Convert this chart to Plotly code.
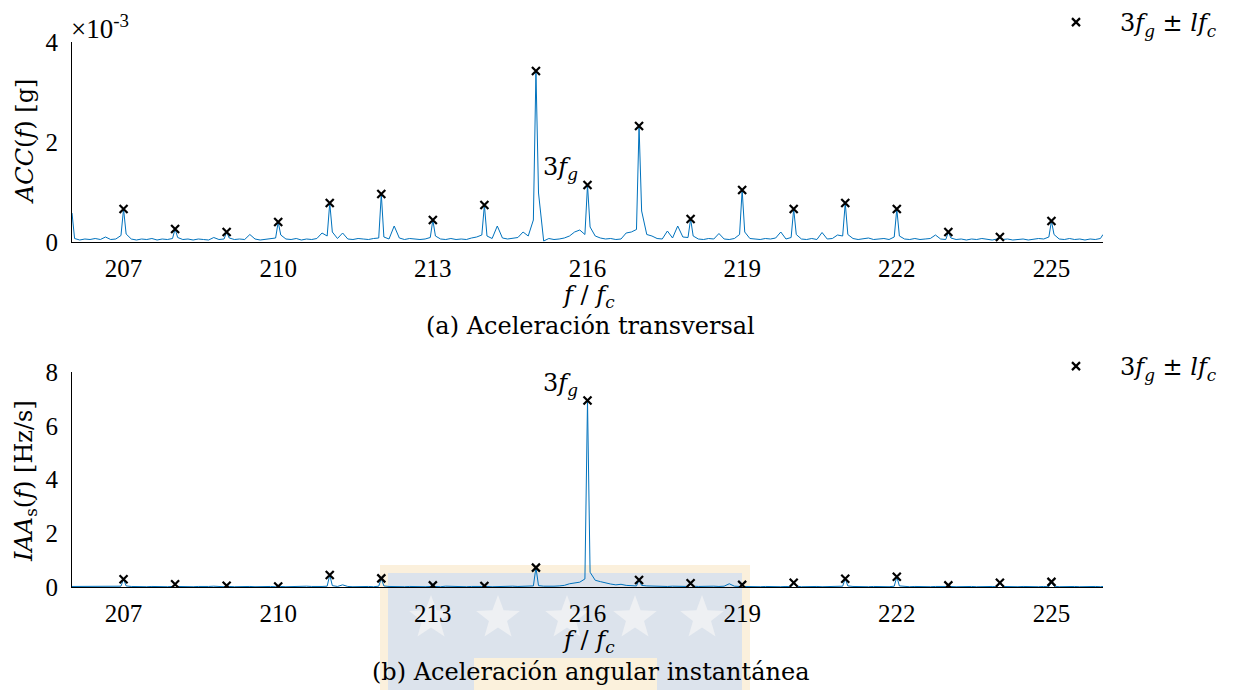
import numpy as np
import plotly.graph_objects as go

# ---------------------------------------------------------------------------
# Data
# ---------------------------------------------------------------------------
# Harmonic family 3f_g ± l f_c (frequency normalised by f_c)
harm_f = [207, 208, 209, 210, 211, 212, 213, 214, 215, 216,
          217, 218, 219, 220, 221, 222, 223, 224, 225]

# Transverse acceleration amplitude at the harmonics [x1e-3 g]
harm_acc = [0.66, 0.26, 0.20, 0.40, 0.78, 0.96, 0.44, 0.74, 3.42, 1.14,
            2.32, 0.46, 1.04, 0.66, 0.78, 0.66, 0.20, 0.10, 0.42]

# Instantaneous angular acceleration amplitude at the harmonics [Hz/s]
harm_iaa = [0.29, 0.10, 0.05, 0.02, 0.45, 0.32, 0.06, 0.04, 0.72, 6.94,
            0.26, 0.14, 0.08, 0.16, 0.31, 0.38, 0.06, 0.16, 0.19]

# Spectrum between harmonics, sampled at 206.05, 206.15, ..., 225.95
floor_f = np.round(206.05 + 0.1 * np.arange(200), 2)

acc_floor = [
    0.07, 0.04, 0.06, 0.05, 0.07, 0.05, 0.10, 0.05, 0.06, 0.13,  # 206
    0.16, 0.06, 0.04, 0.06, 0.05, 0.07, 0.04, 0.06, 0.05, 0.07,  # 207
    0.09, 0.05, 0.06, 0.04, 0.06, 0.05, 0.04, 0.09, 0.05, 0.06,  # 208
    0.08, 0.05, 0.06, 0.05, 0.15, 0.06, 0.04, 0.05, 0.06, 0.08,  # 209
    0.14, 0.06, 0.05, 0.07, 0.04, 0.06, 0.05, 0.07, 0.18, 0.12,  # 210
    0.20, 0.07, 0.18, 0.06, 0.05, 0.07, 0.06, 0.05, 0.07, 0.08,  # 211
    0.10, 0.06, 0.32, 0.08, 0.05, 0.07, 0.06, 0.05, 0.06, 0.09,  # 212
    0.12, 0.06, 0.05, 0.07, 0.05, 0.06, 0.05, 0.08, 0.10, 0.14,  # 213
    0.12, 0.07, 0.32, 0.08, 0.06, 0.07, 0.09, 0.20, 0.12, 0.44,  # 214
    0.98, 0.02, 0.07, 0.05, 0.06, 0.08, 0.12, 0.20, 0.24, 0.15,  # 215
    0.30, 0.12, 0.08, 0.06, 0.07, 0.05, 0.06, 0.18, 0.20, 0.25,  # 216
    0.62, 0.15, 0.12, 0.07, 0.06, 0.22, 0.08, 0.32, 0.10, 0.09,  # 217
    0.12, 0.06, 0.05, 0.07, 0.06, 0.17, 0.06, 0.05, 0.07, 0.15,  # 218
    0.20, 0.07, 0.06, 0.05, 0.07, 0.06, 0.08, 0.20, 0.06, 0.09,  # 219
    0.15, 0.06, 0.05, 0.07, 0.05, 0.19, 0.06, 0.07, 0.14, 0.12,  # 220
    0.15, 0.07, 0.05, 0.06, 0.08, 0.05, 0.06, 0.07, 0.05, 0.10,  # 221
    0.12, 0.06, 0.05, 0.07, 0.05, 0.06, 0.07, 0.14, 0.06, 0.05,  # 222
    0.08, 0.05, 0.06, 0.04, 0.06, 0.05, 0.07, 0.05, 0.04, 0.06,  # 223
    0.05, 0.06, 0.04, 0.05, 0.06, 0.04, 0.05, 0.07, 0.06, 0.10,  # 224
    0.15, 0.06, 0.05, 0.07, 0.05, 0.06, 0.04, 0.06, 0.05, 0.07,  # 225
]
acc_edges = [0.58, 0.15]   # values at f/f_c = 206 and 226

iaa_floor = [
    0.02, 0.01, 0.02, 0.01, 0.02, 0.01, 0.02, 0.01, 0.02, 0.03,  # 206
    0.04, 0.02, 0.01, 0.02, 0.01, 0.02, 0.01, 0.02, 0.01, 0.02,  # 207
    0.02, 0.01, 0.02, 0.01, 0.02, 0.01, 0.02, 0.03, 0.02, 0.01,  # 208
    0.02, 0.01, 0.02, 0.03, 0.02, 0.01, 0.02, 0.01, 0.02, 0.01,  # 209
    0.02, 0.01, 0.02, 0.01, 0.02, 0.03, 0.02, 0.01, 0.02, 0.03,  # 210
    0.05, 0.02, 0.08, 0.02, 0.01, 0.02, 0.01, 0.02, 0.01, 0.03,  # 211
    0.04, 0.02, 0.01, 0.02, 0.01, 0.02, 0.01, 0.02, 0.01, 0.02,  # 212
    0.02, 0.01, 0.03, 0.02, 0.01, 0.02, 0.01, 0.02, 0.01, 0.02,  # 213
    0.02, 0.01, 0.02, 0.03, 0.02, 0.03, 0.02, 0.03, 0.02, 0.04,  # 214
    0.05, 0.03, 0.02, 0.03, 0.04, 0.06, 0.12, 0.15, 0.18, 0.30,  # 215
    0.55, 0.25, 0.20, 0.15, 0.11, 0.08, 0.10, 0.06, 0.05, 0.04,  # 216
    0.06, 0.04, 0.03, 0.04, 0.03, 0.02, 0.03, 0.02, 0.03, 0.02,  # 217
    0.03, 0.02, 0.03, 0.02, 0.03, 0.02, 0.03, 0.12, 0.03, 0.02,  # 218
    0.02, 0.01, 0.02, 0.01, 0.02, 0.01, 0.02, 0.01, 0.02, 0.01,  # 219
    0.03, 0.01, 0.02, 0.01, 0.02, 0.01, 0.02, 0.01, 0.02, 0.03,  # 220
    0.04, 0.02, 0.01, 0.02, 0.01, 0.02, 0.01, 0.02, 0.01, 0.03,  # 221
    0.04, 0.02, 0.01, 0.02, 0.01, 0.02, 0.01, 0.02, 0.01, 0.02,  # 222
    0.02, 0.01, 0.02, 0.01, 0.02, 0.01, 0.02, 0.01, 0.02, 0.01,  # 223
    0.02, 0.01, 0.02, 0.01, 0.02, 0.01, 0.02, 0.01, 0.02, 0.01,  # 224
    0.03, 0.01, 0.02, 0.01, 0.02, 0.01, 0.02, 0.01, 0.02, 0.01,  # 225
]
iaa_edges = [0.02, 0.02]

x_ticks = [207, 210, 213, 216, 219, 222, 225]
acc_ticks = [0, 2, 4]
iaa_ticks = [0, 2, 4, 6, 8]


def spectrum(floor_vals, harm_vals, edges):
    """Merge the inter-harmonic samples with the harmonic peaks."""
    f = np.concatenate([[206.0], floor_f, harm_f, [226.0]])
    v = np.concatenate([[edges[0]], floor_vals, harm_vals, [edges[1]]])
    order = np.argsort(f, kind="stable")
    return f[order], v[order]


f_acc, v_acc = spectrum(acc_floor, harm_acc, acc_edges)
f_iaa, v_iaa = spectrum(iaa_floor, harm_iaa, iaa_edges)

# ---------------------------------------------------------------------------
# Figure
# ---------------------------------------------------------------------------
W, H = 1234, 690
TICK_FONT = "Liberation Serif"   # numeric tick labels
TEXT_FONT = "DejaVu Serif"       # typeset labels and captions
BLUE = "#0072BD"


def px_x(p):
    return p / W


def px_y(p):
    return 1 - p / H


fig = go.Figure()

legend_label = "3<i>f</i><sub><i>g</i></sub> ± <i>lf</i><sub><i>c</i></sub>"
marker_style = dict(symbol="x-thin", size=8, color="black",
                    line=dict(color="black", width=2.2))

fig.add_trace(go.Scatter(x=f_acc, y=v_acc, mode="lines",
                         line=dict(color=BLUE, width=1), showlegend=False,
                         xaxis="x", yaxis="y"))
fig.add_trace(go.Scatter(x=harm_f, y=harm_acc, mode="markers",
                         marker=marker_style, name=legend_label,
                         legend="legend", xaxis="x", yaxis="y"))

fig.add_trace(go.Scatter(x=f_iaa, y=v_iaa, mode="lines",
                         line=dict(color=BLUE, width=1), showlegend=False,
                         xaxis="x2", yaxis="y2"))
fig.add_trace(go.Scatter(x=harm_f, y=harm_iaa, mode="markers",
                         marker=marker_style, name=legend_label,
                         legend="legend2", xaxis="x2", yaxis="y2"))

x_dom = [px_x(72), px_x(1103)]
tickfont = dict(family=TICK_FONT, size=25, color="black")

common_x = dict(domain=x_dom, range=[206, 226], tickvals=x_ticks,
                showline=True, linecolor="black", linewidth=1,
                showgrid=False, zeroline=False, ticks="",
                tickfont=tickfont, ticklabelstandoff=4)
common_y = dict(showline=True, linecolor="black", linewidth=1,
                showgrid=False, zeroline=False, ticks="",
                tickfont=tickfont, ticklabelstandoff=8)

fig.update_layout(
    xaxis=dict(common_x, anchor="y"),
    yaxis=dict(common_y, anchor="x", domain=[px_y(242), px_y(42)],
               range=[0, 4], tickvals=acc_ticks),
    xaxis2=dict(common_x, anchor="y2"),
    yaxis2=dict(common_y, anchor="x2", domain=[px_y(587), px_y(372)],
                range=[0, 8], tickvals=iaa_ticks),
)

legend_common = dict(font=dict(family=TEXT_FONT, size=24, color="black"),
                     bgcolor="rgba(0,0,0,0)", borderwidth=0,
                     itemwidth=78, xanchor="left", yanchor="top")
fig.update_layout(
    legend=dict(legend_common, x=px_x(1032), y=1.0),
    legend2=dict(legend_common, x=px_x(1032), y=px_y(344)),
)

text_font = dict(family=TEXT_FONT, size=24, color="black")


def label(text, x, y, xref="paper", yref="paper", angle=0, font=text_font):
    if xref == "paper":
        x = px_x(x)
    if yref == "paper":
        y = px_y(y)
    return dict(text=text, x=x, y=y, xref=xref, yref=yref,
                xanchor="center", yanchor="middle", textangle=angle,
                showarrow=False, font=font)


annotations = [
    dict(text="×10<sup>-3</sup>", x=px_x(69), y=px_y(27), xref="paper",
         yref="paper", xanchor="left", yanchor="middle", showarrow=False,
         font=dict(family=TICK_FONT, size=27, color="black")),
    label("<i>ACC</i>(<i>f</i>) [g]", 25, 142, angle=-90),
    label("<i>IAA</i><sub>s</sub>(<i>f</i>) [Hz/s]", 25, 481, angle=-90),
    label("<i>f</i> / <i>f</i><sub><i>c</i></sub>", 588, 296),
    label("(a) Aceleración transversal", 590, 326),
    label("<i>f</i> / <i>f</i><sub><i>c</i></sub>", 588, 641),
    label("(b) Aceleración angular instantánea", 590, 672),
    label("3<i>f</i><sub><i>g</i></sub>", 215.47, 1.48, xref="x", yref="y"),
    label("3<i>f</i><sub><i>g</i></sub>", 215.47, 7.55, xref="x2",
          yref="y2"),
]


# Faint institutional watermark behind the lower caption
def star_path(cx, cy, r_out, r_in):
    pts = []
    for k in range(10):
        r = r_out if k % 2 == 0 else r_in
        a = -np.pi / 2 + k * np.pi / 5
        pts.append((px_x(cx + r * np.cos(a)), px_y(cy + r * np.sin(a))))
    return "M " + " L ".join(f"{x:.5f},{y:.5f}" for x, y in pts) + " Z"


def rect(x0, y0, x1, y1, color):
    return dict(type="rect", xref="paper", yref="paper", layer="below",
                x0=px_x(x0), x1=px_x(x1), y0=px_y(y1), y1=px_y(y0),
                fillcolor=color, line=dict(width=0))


shapes = [
    rect(380, 565, 750, 690, "#FBF0DC"),
    rect(388, 573, 742, 690, "#DCE3EC"),
    rect(474, 658, 657, 690, "#FBF1DC"),
]
for cx in [431, 498, 567, 635, 702]:
    shapes.append(dict(type="path", xref="paper", yref="paper",
                       layer="below", path=star_path(cx, 618, 23, 9.5),
                       fillcolor="#EEF0F3", line=dict(width=0)))

fig.update_layout(
    width=W, height=H,
    margin=dict(l=0, r=0, t=0, b=0, autoexpand=False),
    paper_bgcolor="white", plot_bgcolor="rgba(0,0,0,0)",
    font=dict(family=TEXT_FONT, color="black"),
    annotations=annotations,
    shapes=shapes,
)

fig.write_html("out.html")
